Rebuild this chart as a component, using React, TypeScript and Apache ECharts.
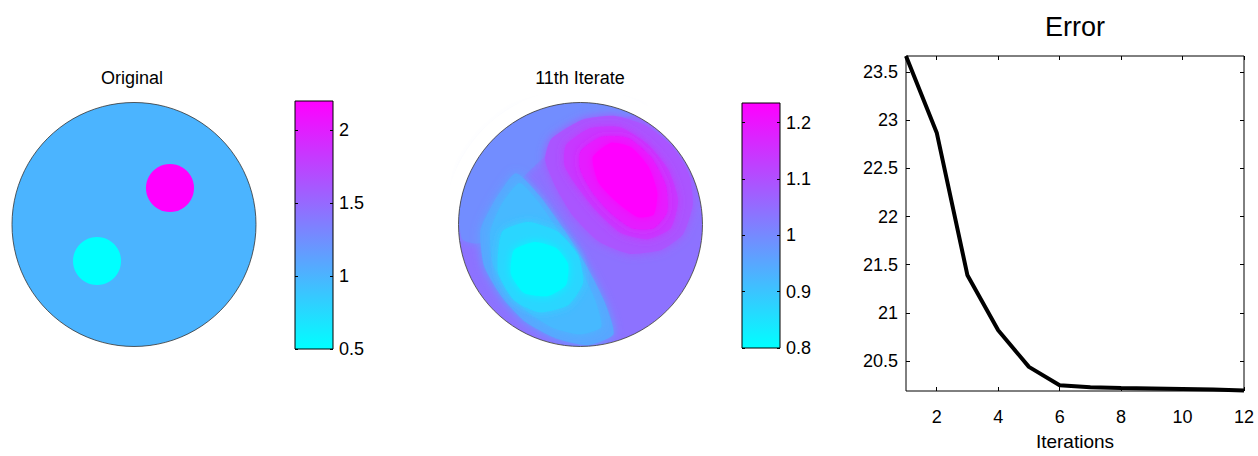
import React, { useEffect, useRef } from "react";
import * as echarts from "echarts";

const FONT = '"Liberation Sans", Arial, Helvetica, sans-serif';
const COOL = ["#00ffff", "#ff00ff"];

// ---- Panel 1: Original conductivity (unit disk, data coordinates) ----
const originalCenterX = [0, 0.295, -0.303];
const originalCenterY = [0, 0.299, -0.299];
const originalRadius = [1, 0.197, 0.197];
const originalValues = [1, 2.2, 0.5];
const originalRange = [0.5, 2.2];
const originalColorbarTicks = [0.5, 1, 1.5, 2];

// ---- Panel 2: 11th iterate (piecewise regions inside the unit disk) ----
const iterateDiskValue = 1.04;
const iterateRegionValues = [0.995, 1.09, 1.14, 1.19, 1.235, 0.95, 0.92, 0.87, 0.81];
const iterateRegionShapes: number[][][] = [
  // bluish upper-left zone
  [[-0.996, 0.16], [-0.947, 0.447], [-0.783, 0.693], [-0.537, 0.898], [-0.25, 0.988], [0.037, 1.0], [0.324, 0.971], [0.488, 0.914], [0.16, 0.83], [-0.086, 0.72], [-0.291, 0.56], [-0.496, 0.36], [-0.68, 0.12], [-0.82, -0.15], [-0.97, -0.12]],
  // magenta halo
  [[-0.24, 0.7], [0.02, 0.86], [0.283, 0.89], [0.54, 0.81], [0.75, 0.64], [0.89, 0.41], [0.92, 0.16], [0.84, -0.08], [0.66, -0.21], [0.4, -0.24], [0.15, -0.14], [-0.06, 0.07], [-0.2, 0.3], [-0.29, 0.53]],
  // magenta outer
  [[-0.12, 0.65], [0.08, 0.79], [0.32, 0.8], [0.55, 0.66], [0.72, 0.45], [0.8, 0.2], [0.74, -0.03], [0.55, -0.12], [0.33, -0.07], [0.14, 0.1], [-0.02, 0.3], [-0.13, 0.48]],
  // magenta mid
  [[0.0, 0.6], [0.17, 0.72], [0.39, 0.71], [0.58, 0.55], [0.7, 0.32], [0.71, 0.1], [0.6, -0.03], [0.42, -0.03], [0.24, 0.1], [0.1, 0.26], [0.0, 0.44]],
  // magenta core
  [[0.1, 0.55], [0.25, 0.67], [0.42, 0.63], [0.56, 0.47], [0.63, 0.26], [0.6, 0.08], [0.47, 0.06], [0.3, 0.18], [0.15, 0.34]],
  // light-blue stripe halo
  [[-0.53, 0.42], [-0.34, 0.24], [-0.13, -0.05], [0.06, -0.36], [0.2, -0.64], [0.27, -0.9], [0.06, -0.99], [-0.21, -0.93], [-0.45, -0.8], [-0.64, -0.6], [-0.79, -0.34], [-0.82, -0.05], [-0.7, 0.2]],
  // light-blue stripe
  [[-0.5, 0.34], [-0.35, 0.19], [-0.17, -0.07], [0.0, -0.36], [0.12, -0.62], [0.17, -0.84], [0.0, -0.9], [-0.22, -0.85], [-0.43, -0.72], [-0.6, -0.54], [-0.72, -0.32], [-0.74, -0.06], [-0.65, 0.16]],
  // medium cyan
  [[-0.643, -0.061], [-0.43, 0.02], [-0.184, -0.061], [-0.02, -0.25], [0.02, -0.48], [-0.1, -0.66], [-0.332, -0.72], [-0.545, -0.62], [-0.676, -0.389]],
  // cyan core
  [[-0.545, -0.209], [-0.373, -0.143], [-0.2, -0.193], [-0.102, -0.324], [-0.119, -0.496], [-0.266, -0.586], [-0.463, -0.561], [-0.57, -0.406]],
];
const iterateRange = [0.8, 1.235];
const iterateColorbarTicks = [0.8, 0.9, 1, 1.1, 1.2];

// ---- Panel 3: Error vs iterations ----
const iterations = [1, 2, 3, 4, 5, 6, 7, 8, 9, 10, 11, 12];
const errorValues = [23.665, 22.87, 21.39, 20.82, 20.44, 20.25, 20.23, 20.22, 20.215, 20.21, 20.205, 20.195];
const errorXTicks = [2, 4, 6, 8, 10, 12];
const errorYTicks = [20.5, 21, 21.5, 22, 22.5, 23, 23.5];
const errorRange = [20.19, 23.665];

const hiddenAxis = (gridIndex: number, min: number, max: number) => ({
  type: "value",
  gridIndex,
  min,
  max,
  show: false,
});

const tickAxis = (
  gridIndex: number,
  min: number,
  max: number,
  ticks: number[],
  position: string,
  showLabels: boolean,
  labelMargin: number,
  tickLength: number,
  extra: any = {}
) => ({
  type: "value",
  gridIndex,
  min,
  max,
  position,
  z: 10,
  axisLine: { show: false },
  splitLine: { show: false },
  axisTick: {
    show: true,
    inside: true,
    length: tickLength,
    customValues: ticks,
    lineStyle: { color: "#000", width: 1 },
  },
  axisLabel: {
    show: showLabels,
    customValues: ticks,
    margin: labelMargin,
    fontSize: 18,
    color: "#000",
    fontFamily: FONT,
  },
  ...extra,
});

const colorbarRender = (min: number, max: number) => (params: any, api: any) => {
  const tl = api.coord([0, max]);
  const br = api.coord([1, min]);
  return {
    type: "rect",
    shape: { x: tl[0], y: tl[1], width: br[0] - tl[0], height: br[1] - tl[1] },
    style: {
      fill: {
        type: "linear",
        x: 0,
        y: 0,
        x2: 0,
        y2: 1,
        colorStops: [
          { offset: 0, color: COOL[1] },
          { offset: 1, color: COOL[0] },
        ],
      },
    },
  };
};

export default function App() {
  const ref = useRef<HTMLDivElement>(null);

  useEffect(() => {
    document.body.style.margin = "0";
    if (!ref.current) return;
    const chart = echarts.init(ref.current, undefined, { renderer: "svg" });

    const originalData = originalValues.map((v, i) => [
      originalCenterX[i],
      originalCenterY[i],
      originalRadius[i],
      v,
    ]);
    const iterateData = [[iterateDiskValue, -1]].concat(
      iterateRegionValues.map((v, i) => [v, i])
    );

    const option: any = {
      animation: false,
      textStyle: { fontFamily: FONT },
      grid: [
        { left: 12, top: 102.5, width: 244, height: 244 },
        { left: 458.5, top: 102.5, width: 244, height: 244 },
        { left: 295, top: 101, width: 38, height: 248, show: true, z: 10, borderColor: "#000", borderWidth: 1, backgroundColor: "transparent" },
        { left: 742, top: 103, width: 38, height: 245, show: true, z: 10, borderColor: "#000", borderWidth: 1, backgroundColor: "transparent" },
        { left: 906, top: 56, width: 338, height: 337, show: true, z: 10, borderColor: "#000", borderWidth: 1, backgroundColor: "transparent" },
      ],
      xAxis: [
        hiddenAxis(0, -1, 1),
        hiddenAxis(1, -1, 1),
        hiddenAxis(2, 0, 1),
        hiddenAxis(3, 0, 1),
        tickAxis(4, 1, 12, errorXTicks, "bottom", true, 17, 4, {
          name: "Iterations",
          nameLocation: "middle",
          nameGap: 41,
          nameTextStyle: { fontSize: 19, color: "#000", fontFamily: FONT },
        }),
        tickAxis(4, 1, 12, errorXTicks, "top", false, 8, 4),
      ],
      yAxis: [
        hiddenAxis(0, -1, 1),
        hiddenAxis(1, -1, 1),
        tickAxis(2, originalRange[0], originalRange[1], originalColorbarTicks, "left", false, 6, 3),
        tickAxis(2, originalRange[0], originalRange[1], originalColorbarTicks, "right", true, 6, 3),
        tickAxis(3, iterateRange[0], iterateRange[1], iterateColorbarTicks, "left", false, 6, 3),
        tickAxis(3, iterateRange[0], iterateRange[1], iterateColorbarTicks, "right", true, 6, 3),
        tickAxis(4, errorRange[0], errorRange[1], errorYTicks, "left", true, 8, 4),
        tickAxis(4, errorRange[0], errorRange[1], errorYTicks, "right", false, 8, 4),
      ],
      visualMap: [
        {
          type: "continuous",
          show: false,
          seriesIndex: 0,
          dimension: 3,
          min: originalRange[0],
          max: originalRange[1],
          inRange: { color: COOL },
        },
        {
          type: "continuous",
          show: false,
          seriesIndex: 1,
          dimension: 0,
          min: iterateRange[0],
          max: iterateRange[1],
          inRange: { color: COOL },
        },
      ],
      graphic: [
        { type: "text", x: 132, y: 78, style: { text: "Original", font: `18px ${FONT}`, fill: "#000", align: "center", verticalAlign: "middle" } },
        { type: "text", x: 580, y: 78, style: { text: "11th Iterate", font: `18px ${FONT}`, fill: "#000", align: "center", verticalAlign: "middle" } },
        { type: "text", x: 1075, y: 27, style: { text: "Error", font: `27px ${FONT}`, fill: "#000", align: "center", verticalAlign: "middle" } },
      ],
      series: [
        {
          type: "custom",
          xAxisIndex: 0,
          yAxisIndex: 0,
          data: originalData,
          dimensions: ["x", "y", "r", "value"],
          encode: { x: 0, y: 1 },
          renderItem: (params: any, api: any) => {
            const c = api.coord([api.value(0), api.value(1)]);
            const s = api.size([api.value(2), api.value(2)]);
            const isDisk = params.dataIndex === 0;
            return {
              type: "circle",
              shape: { cx: c[0], cy: c[1], r: s[0] },
              style: {
                fill: api.visual("color"),
                stroke: isDisk ? "#333" : null,
                lineWidth: isDisk ? 0.8 : 0,
              },
            };
          },
        },
        {
          type: "custom",
          xAxisIndex: 1,
          yAxisIndex: 1,
          data: iterateData,
          dimensions: ["value", "region"],
          encode: { x: 0, y: 1 },
          renderItem: (params: any, api: any) => {
            const idx = api.value(1);
            const fill = api.visual("color");
            if (idx < 0) {
              const c = api.coord([0, 0]);
              const s = api.size([1, 1]);
              return { type: "circle", shape: { cx: c[0], cy: c[1], r: s[0] }, style: { fill } };
            }
            const pts = iterateRegionShapes[idx].map((p) => api.coord(p));
            return {
              type: "polygon",
              shape: { points: pts, smooth: 0.2 },
              style: { fill, shadowBlur: 10, shadowColor: fill },
            };
          },
        },
        {
          type: "custom",
          xAxisIndex: 1,
          yAxisIndex: 1,
          data: [[0, 0]],
          z: 3,
          renderItem: (params: any, api: any) => {
            const c = api.coord([0, 0]);
            const r = api.size([1, 1])[0];
            return {
              type: "group",
              children: [
                { type: "ring", shape: { cx: c[0], cy: c[1], r: r + 14, r0: r }, style: { fill: "#fff" } },
                { type: "circle", shape: { cx: c[0], cy: c[1], r }, style: { fill: "none", stroke: "#333", lineWidth: 0.8 } },
              ],
            };
          },
        },
        {
          type: "custom",
          xAxisIndex: 2,
          yAxisIndex: 3,
          data: [[0, originalRange[0]]],
          renderItem: colorbarRender(originalRange[0], originalRange[1]),
        },
        {
          type: "custom",
          xAxisIndex: 3,
          yAxisIndex: 5,
          data: [[0, iterateRange[0]]],
          renderItem: colorbarRender(iterateRange[0], iterateRange[1]),
        },
        {
          type: "line",
          xAxisIndex: 4,
          yAxisIndex: 6,
          data: iterations.map((x, i) => [x, errorValues[i]]),
          symbol: "none",
          lineStyle: { color: "#000", width: 4 },
          z: 5,
        },
      ],
    };

    chart.setOption(option);
    return () => chart.dispose();
  }, []);

  return <div ref={ref} style={{ width: 1258, height: 456 }} />;
}
